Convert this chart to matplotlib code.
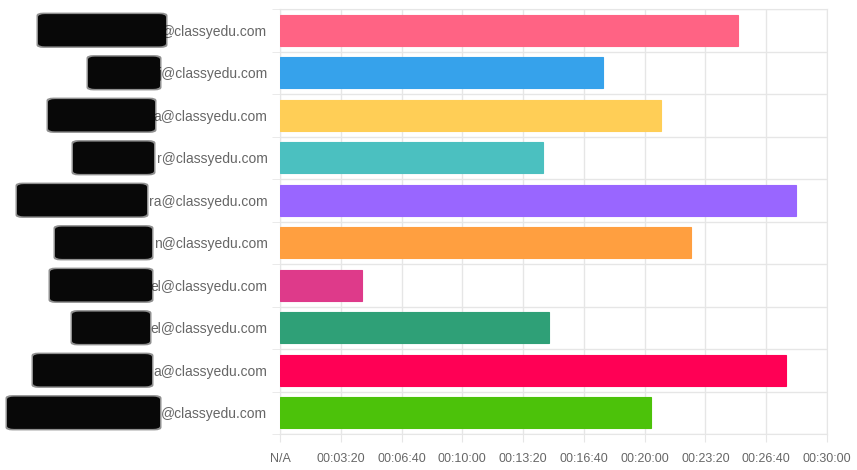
import matplotlib.pyplot as plt
from matplotlib.ticker import FuncFormatter, MultipleLocator, FixedLocator
from matplotlib.patches import FancyBboxPatch
from matplotlib.transforms import blended_transform_factory
import numpy as np

# visible part of each (redacted) address, top to bottom
users = ["@classyedu.com", "j@classyedu.com", "a@classyedu.com", "r@classyedu.com",
         "ra@classyedu.com", "n@classyedu.com", "el@classyedu.com", "el@classyedu.com",
         "a@classyedu.com", "@classyedu.com"]
# time spent, in seconds
durations = [1508, 1064, 1255, 864, 1698, 1352, 270, 885, 1665, 1220]
colors = ["#FF6384", "#36A2EB", "#FFCE56", "#4BC0C0", "#9966FF",
          "#FF9F40", "#DE3A8A", "#2FA077", "#FF0055", "#4CC20A"]

# redaction scribbles (left/right edge in figure px), one per row
redact_x = [(38, 166), (88, 160), (48, 155), (73, 154), (17, 147),
            (55, 152), (50, 152), (72, 150), (33, 152), (7, 160)]

GRID = "#e6e6e6"
TEXT = "#666666"


def fmt_time(s, pos=None):
    s = int(round(s))
    if s == 0:
        return "N/A"
    return f"{s // 3600:02d}:{(s % 3600) // 60:02d}:{s % 60:02d}"


fig = plt.figure(figsize=(8.57, 4.70), dpi=100)
ax = fig.add_axes([280 / 857, 1 - 434 / 470, 547 / 857, 425 / 470])

y = np.arange(len(users))
ax.barh(y, durations, height=0.72, color=colors, edgecolor=colors, linewidth=0.8, zorder=3)

ax.set_xlim(0, 1800)
ax.set_ylim(len(users) - 0.5, -0.5)

ax.xaxis.set_major_locator(MultipleLocator(200))
ax.xaxis.set_major_formatter(FuncFormatter(fmt_time))
ax.set_yticks(y)
ax.set_yticklabels(users)
ax.yaxis.set_minor_locator(FixedLocator(np.arange(-0.5, len(users), 1.0)))

ax.grid(axis="x", which="major", color=GRID, linewidth=1, zorder=0)
ax.grid(axis="y", which="minor", color=GRID, linewidth=1, zorder=0)
ax.tick_params(axis="x", which="major", length=6, color=GRID, pad=8,
               labelsize=9, labelcolor=TEXT)
ax.tick_params(axis="y", which="major", length=0, pad=9,
               labelsize=10, labelcolor=TEXT)
ax.tick_params(axis="y", which="minor", length=6, color=GRID)
for lab in ax.get_xticklabels() + ax.get_yticklabels():
    lab.set_fontfamily(["Liberation Sans", "DejaVu Sans"])
for sp in ax.spines.values():
    sp.set_color(GRID)

# black marker scribbles over the hidden names
tr = blended_transform_factory(fig.dpi_scale_trans, ax.transData)
for i, (x0, x1) in enumerate(redact_x):
    for grow, alpha in [(1.5, 0.45), (0, 1.0)]:
        w = (x1 - x0 + 2 * grow) / 100
        patch = FancyBboxPatch(((x0 - grow) / 100, i - 0.38 - grow / 42.5), w,
                               0.76 + 2 * grow / 42.5,
                               boxstyle="round,pad=0,rounding_size=0.07",
                               transform=tr, facecolor="#080808", edgecolor="none",
                               alpha=alpha, clip_on=False, zorder=5)
        ax.add_patch(patch)

fig.savefig("out.png", dpi=100, facecolor="white")
